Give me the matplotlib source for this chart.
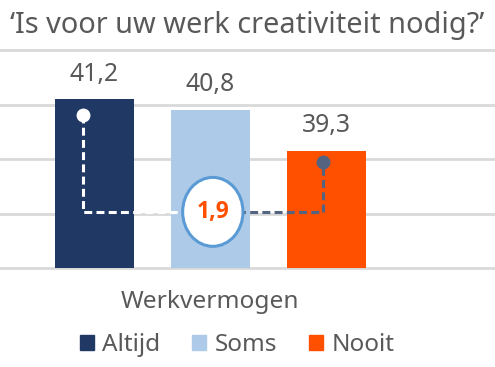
import matplotlib.pyplot as plt
from matplotlib.patches import Ellipse, Patch

plt.rcParams['font.family'] = ['Noto Sans', 'DejaVu Sans']

# data
categories = ['Altijd', 'Soms', 'Nooit']
values = [41.2, 40.8, 39.3]
colors = ['#203864', '#ADCBE8', '#FF5000']
title = '\u2018Is voor uw werk creativiteit nodig?\u2019'
xlabel = 'Werkvermogen'
y_ticks = [35, 37, 39, 41, 43]

TEXT = '#595959'
GRID = '#D9D9D9'
BASE = 35


def fmt(v):
    return f'{v:.1f}'.replace('.', ',')


fig = plt.figure(figsize=(4.95, 3.67), dpi=100)
ax = fig.add_axes([0, (367 - 268) / 367, 1, 218 / 367])

x = list(range(len(values)))
ax.bar(x, [v - BASE for v in values], bottom=BASE, width=0.68,
       color=colors, zorder=2)

for t in y_ticks:
    ax.axhline(t, color=GRID, lw=2, clip_on=False, zorder=1)

for xi, v in zip(x, values):
    ax.annotate(fmt(v), (xi, v), xytext=(0, 25), textcoords='offset pixels',
                ha='center', va='center', fontsize=17.8, color=TEXT)

# connector between first and last bar with the difference
y_link = 37.06
x_first = x[0] - 0.1
x_last = x[2] - 0.03
x_mid = 1.02
ell_w, ell_h = 0.52, 2.53
dash = (0, (2.6, 1.4))
ax.plot([x_first, x_first, x_mid], [values[0] - 0.6, y_link, y_link],
        color='white', lw=2.2, ls=dash, zorder=3)
ax.plot([x_mid, x_last, x_last], [y_link, y_link, values[2] - 0.4],
        color='#536480', lw=2.2, ls=dash, zorder=3)
ax.plot([x_first], [values[0] - 0.6], 'o', color='white', ms=9, zorder=4)
ax.plot([x_last], [values[2] - 0.4], 'o', color='#536480', ms=9, zorder=4)
ax.add_patch(Ellipse((x_mid, y_link), ell_w, ell_h, fc='white',
                     ec='#5B9BD5', lw=2.2, zorder=5))
ax.text(x_mid, y_link, fmt(values[0] - values[2]), ha='center', va='center',
        fontsize=16.5, fontweight='bold', family=['Open Sans', 'DejaVu Sans'],
        color='#FF5000', zorder=6)

ax.set_xlim(-94.5 / 116, (495 - 94.5) / 116)
ax.set_ylim(35, 43)
ax.axis('off')

fig.text(0.5, 1 - 26 / 367, title, ha='center', va='center',
         fontsize=20.8, color=TEXT)
fig.text(210 / 495, 1 - 302 / 367, xlabel, ha='center', va='center',
         fontsize=17.6, color=TEXT)

handles = [Patch(color=c) for c in colors]
fig.legend(handles, categories, loc='center', ncol=3,
           bbox_to_anchor=(237 / 495, 1 - 345 / 367), frameon=False,
           fontsize=17.5, labelcolor=TEXT, handlelength=0.58,
           handleheight=0.58, handletextpad=0.35, columnspacing=1.3)

fig.savefig('out.png', dpi=100)
